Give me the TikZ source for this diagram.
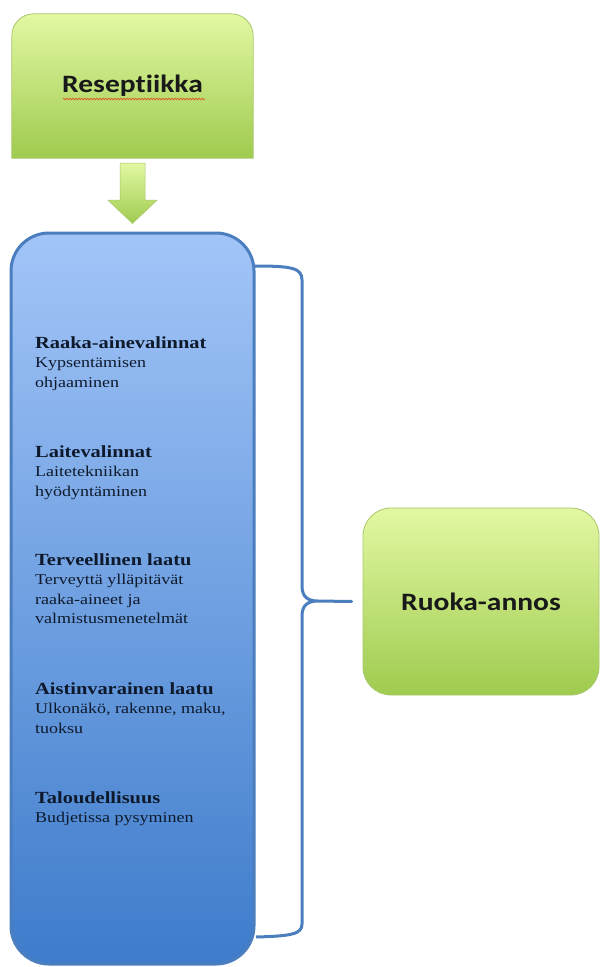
\documentclass[tikz,border=0pt]{standalone}
\usepackage{fontspec}
\usetikzlibrary{calc,backgrounds,decorations.pathmorphing}
\newfontfamily\otsikkofont[FakeStretch=1.18,RawFeature={-liga;-calt;-dlig}]{Carlito}
\newfontfamily\tekstifont[FakeStretch=1.2]{Liberation Serif}
\definecolor{vihrea1}{HTML}{E2F8A3}
\definecolor{vihrea2}{HTML}{9FCB4F}
\definecolor{vihreareuna}{HTML}{A9C76A}
\definecolor{sininen1}{HTML}{A2C5F8}
\definecolor{sininen2}{HTML}{3E7CCB}
\definecolor{sininenreuna}{HTML}{4A7EBE}
\definecolor{teksti}{HTML}{0E1A2C}
\definecolor{punainen}{HTML}{E0502A}

\begin{document}
\begin{tikzpicture}
  [x=1pt,y=-1pt,
   vihrea/.style={top color=vihrea1,bottom color=vihrea2,draw=vihreareuna,line width=.8pt},
   isoteksti/.style={font={\otsikkofont\bfseries\fontsize{25}{30}\selectfont},text=black!90,inner sep=0},
   kohta/.style={anchor=north west,align=left,inner sep=0,text=teksti,font={\tekstifont\fontsize{15}{19.5}\selectfont}}]
  \useasboundingbox (0,0) rectangle (601,967);

  \node[isoteksti,minimum width=241pt,minimum height=144pt] (resept) at (132.5,86) {Reseptiikka};
  \node[draw=sininenreuna,line width=3pt,rounded corners=38pt,top color=sininen1,bottom color=sininen2,
        minimum width=243pt,minimum height=731pt] (kohteet) at (132.5,598.5) {};
  \node[vihrea,isoteksti,rounded corners=28pt,minimum width=236pt,minimum height=187pt] (annos) at (481,601.5) {Ruoka-annos};

  \begin{scope}[on background layer]
    \fill[white] (0,0) rectangle (601,967);
    \path[vihrea] (resept.south west) [rounded corners=22pt] -- (resept.north west) -- (resept.north east)
      [sharp corners] -- (resept.south east) -- cycle;
  \end{scope}
  \draw[punainen,line width=.7pt,decorate,decoration={snake,amplitude=.8pt,segment length=3pt}] (63,99) -- (205,99);

  % nuoli
  \path[vihrea,line width=.5pt] ($(resept.south)+(-12.5,5)$) -- ($(resept.south)+(12.5,5)$) -- ($(resept.south)+(12.5,42)$)
    -- ($(resept.south)+(24.5,42)$) -- ($(kohteet.north)+(0,-8)$) -- ($(resept.south)+(-24.5,42)$)
    -- ($(resept.south)+(-12.5,42)$) -- cycle;

  \node[kohta] (raaka) at (35,336) {{\bfseries\fontsize{17}{19.5}\selectfont Raaka-ainevalinnat}\\Kypsentämisen\\ohjaaminen};
  \node[kohta] (laite) at (35,445) {{\bfseries\fontsize{17}{19.5}\selectfont Laitevalinnat}\\Laitetekniikan\\hyödyntäminen};
  \node[kohta] (terv) at (35,553) {{\bfseries\fontsize{17}{19.5}\selectfont Terveellinen laatu}\\Terveyttä ylläpitävät\\raaka-aineet ja\\valmistusmenetelmät};
  \node[kohta] (aisti) at (35,682) {{\bfseries\fontsize{17}{19.5}\selectfont Aistinvarainen laatu}\\Ulkonäkö, rakenne, maku,\\tuoksu};
  \node[kohta] (talous) at (35,791) {{\bfseries\fontsize{17}{19.5}\selectfont Taloudellisuus}\\Budjetissa pysyminen};

  % aaltosulje
  \draw[sininenreuna,line width=3pt,line join=round] (255,266) .. controls (292,266) and (302,268) .. (302,280)
    -- (302,586) .. controls (302,597) and (308,601) .. (318,601) -- ($(annos.west)+(-11,0)$) -- (318,601)
    .. controls (308,601) and (302,605) .. (302,616) -- (302,924) .. controls (302,934) and (292,936) .. (256,937);

\end{tikzpicture}
\end{document}
